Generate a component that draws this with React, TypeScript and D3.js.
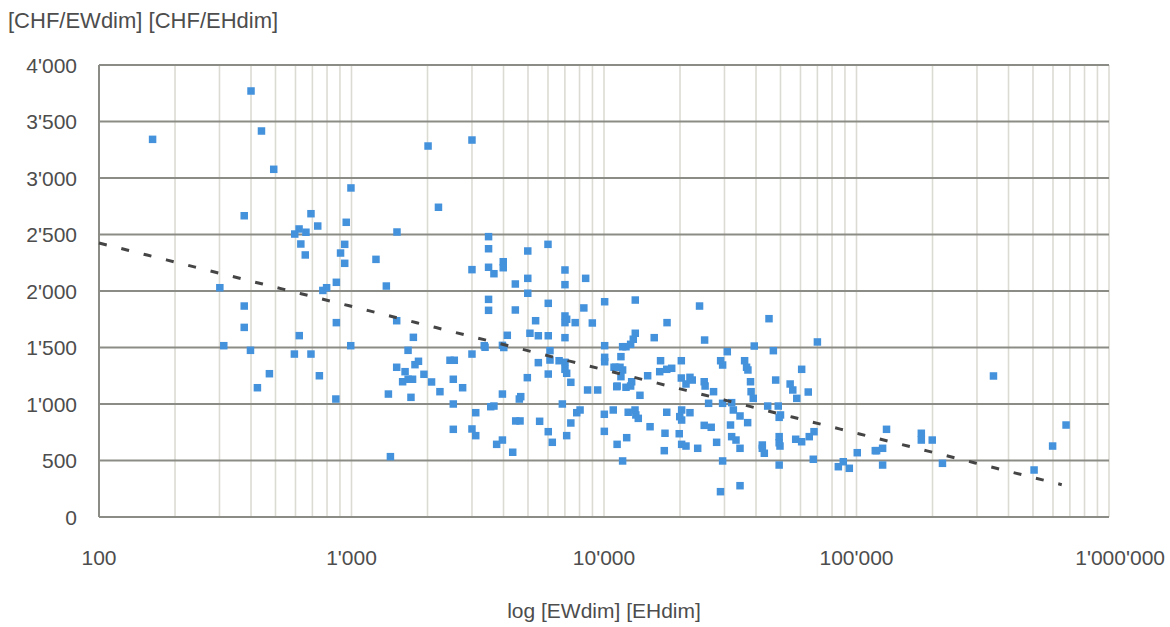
import React from "react";
import * as d3 from "d3";

// Data
const xValues: number[] = [
  163, 400, 440, 492, 995, 376, 691, 735, 953, 596, 620, 660, 630, 656, 940, 905, 940, 871, 797, 301,
  770, 376, 376, 871, 621, 312, 398, 594, 691, 993, 473, 746, 424, 867, 2010, 3000, 2210, 1514, 1250, 1374,
  3490, 3490, 3000, 3490, 3665, 3990, 3990, 4990, 6000, 4990, 4455, 7005, 7005, 8460, 4990, 3490, 3490, 4455, 6015, 8320,
  10060, 5360, 7005, 7115, 7005, 7690, 8990, 1510, 1758, 1675, 1510, 1630, 1842, 1784, 1936, 1594, 1676, 1745, 2075, 1400,
  1720, 2240, 2455, 2553, 2530, 2755, 3000, 3355, 3380, 3960, 4010, 4140, 5090, 5495, 6015, 7005, 6110, 6110, 6640, 5495,
  7005, 7005, 7115, 6015, 7390, 4970, 3960, 4680, 4620, 8610, 9440, 10060, 10060, 10060, 11130, 11270, 2530, 3105, 3560, 3665,
  4470, 4650, 5560, 6840, 7390, 7800, 8040, 10030, 10880, 10030, 11270, 2530, 3000, 3105, 3757, 3960, 4350, 6015, 6240, 7115,
  1426, 13300, 23900, 17770, 45030, 13300, 13060, 12750, 12220, 11850, 15810, 25030, 39360, 46850, 30780, 70000, 11670, 10960, 11570, 11850,
  11670, 11230, 12220, 12750, 12870, 13880, 14890, 16750, 16620, 17720, 18540, 20240, 20240, 21900, 22360, 21120, 24940, 25140, 27160, 28970,
  29500, 36050, 36700, 37150, 38040, 38240, 39000, 25960, 29490, 32030, 32530, 34570, 37060, 31700, 32030, 33320, 34570, 27930, 24940, 26580,
  23500, 20300, 19950, 20300, 21900, 19860, 20300, 21120, 17440, 17330, 17720, 15220, 12470, 13270, 13670, 13370, 12300, 11850, 29500, 28930,
  34570, 42360, 42360, 43140, 49400, 49400, 49770, 49400, 49400, 50000, 44490, 48990, 54600, 55930, 58000, 47860, 60650, 64400, 57440, 60650,
  65000, 67880, 67430, 84730, 88640, 93650, 100700, 118700, 131500, 120100, 126900, 126900, 180600, 180600, 199500, 219000, 348700, 505000, 598000, 676000,
];

const yValues: number[] = [
  3342, 3770, 3416, 3077, 2912, 2666, 2684, 2575, 2608, 2504, 2549, 2520, 2416, 2319, 2413, 2336, 2245, 2077, 2029, 2029,
  2005, 1867, 1678, 1720, 1605, 1516, 1475, 1442, 1442, 1516, 1268, 1250, 1144, 1044, 3283, 3336, 2741, 2522, 2280, 2044,
  2481, 2374, 2189, 2210, 2153, 2259, 2206, 2354, 2413, 2112, 2062, 2186, 2056, 2112, 1980, 1926, 1829, 1832, 1891, 1850,
  1905, 1737, 1779, 1750, 1720, 1720, 1717, 1737, 1590, 1475, 1325, 1286, 1378, 1348, 1263, 1197, 1219, 1219, 1195, 1088,
  1059, 1109, 1387, 1387, 1219, 1144, 1442, 1516, 1502, 1519, 1500, 1608, 1626, 1604, 1604, 1587, 1472, 1389, 1383, 1366,
  1369, 1307, 1272, 1265, 1192, 1233, 1088, 1065, 1044, 1124, 1124, 1516, 1413, 1374, 1325, 1159, 1000, 923, 976, 982,
  850, 850, 847, 1000, 832, 923, 947, 909, 947, 758, 643, 776, 779, 720, 643, 681, 573, 755, 661, 720,
  534, 1920, 1867, 1720, 1755, 1626, 1573, 1528, 1507, 1507, 1587, 1566, 1513, 1472, 1463, 1549, 1419, 1325, 1325, 1301,
  1242, 1153, 1148, 1159, 1197, 1077, 1250, 1383, 1286, 1307, 1316, 1383, 1230, 1236, 1212, 1177, 1197, 1159, 1109, 1383,
  1345, 1383, 1325, 1301, 1197, 1109, 1050, 1006, 1006, 1012, 947, 894, 835, 814, 711, 681, 608, 661, 811, 794,
  608, 947, 888, 858, 923, 737, 643, 628, 741, 587, 927, 799, 927, 947, 873, 903, 702, 496, 496, 224,
  277, 637, 608, 564, 711, 657, 628, 460, 882, 903, 982, 982, 1177, 1124, 1050, 1212, 1307, 1106, 688, 666,
  711, 755, 511, 445, 489, 431, 569, 587, 776, 587, 608, 460, 741, 681, 681, 475, 1248, 416, 628, 814,
];

const xTickValues: number[] = [100, 1000, 10000, 100000, 1000000];
const xTickLabels: string[] = ["100", "1'000", "10'000", "100'000", "1'000'000"];
const yTickValues: number[] = [0, 500, 1000, 1500, 2000, 2500, 3000, 3500, 4000];
const yTickLabels: string[] = ["0", "500", "1'000", "1'500", "2'000", "2'500", "3'000", "3'500", "4'000"];

// logarithmic trend line: value at x=100 and change per decade
const trendAt100 = 2425;
const trendPerDecade = -561;
const trendStart = 100;
const trendEnd = 650000;

const yTitle = "[CHF/EWdim] [CHF/EHdim]";
const xTitle = "log [EWdim] [EHdim]";

const W = 1170;
const H = 627;
const M = { left: 99, right: 1109, top: 65, bottom: 517 };

export default function App() {
  const x = d3.scaleLog().domain([100, 1000000]).range([M.left, M.right]);
  const y = d3.scaleLinear().domain([0, 4000]).range([M.bottom, M.top]);

  const minor: number[] = [];
  for (let e = 2; e < 6; e++) {
    for (let k = 1; k <= 9; k++) minor.push(k * Math.pow(10, e));
  }
  minor.push(1000000);

  const trendVal = (v: number) => trendAt100 + trendPerDecade * (Math.log10(v) - 2);
  const trendPts: [number, number][] = d3.range(0, 101).map((i) => {
    const lv = Math.log10(trendStart) + (i / 100) * (Math.log10(trendEnd) - Math.log10(trendStart));
    const v = Math.pow(10, lv);
    return [x(v), y(trendVal(v))];
  });
  const line = d3.line();

  const font = "'Liberation Sans', Arial, sans-serif";
  const textColor = "#4d4d4d";
  const sq = 7.5;

  return (
    <svg
      width={W}
      height={H}
      style={{ position: "absolute", left: 0, top: 0, background: "#fff" }}
      fontFamily={font}
    >
      <rect x={0} y={0} width={W} height={H} fill="#fff" />
      {minor.map((v, i) => (
        <line key={"v" + i} x1={x(v)} x2={x(v)} y1={M.top} y2={M.bottom} stroke="#dcdbd3" strokeWidth={1.6} />
      ))}
      {yTickValues.map((v) => (
        <line key={"h" + v} x1={M.left} x2={M.right} y1={y(v)} y2={y(v)} stroke="#8c8c86" strokeWidth={2} />
      ))}
      <line x1={M.left} x2={M.left} y1={M.top} y2={M.bottom} stroke="#8c8c86" strokeWidth={2} />
      <line x1={M.left} x2={M.right} y1={M.bottom} y2={M.bottom} stroke="#8c8c86" strokeWidth={2} />

      {xValues.map((v, i) => (
        <rect
          key={"p" + i}
          x={x(v) - sq / 2}
          y={y(yValues[i]) - sq / 2}
          width={sq}
          height={sq}
          fill="#4592dc"
        />
      ))}

      <path
        d={line(trendPts) || ""}
        fill="none"
        stroke="#454545"
        strokeWidth={3}
        strokeDasharray="8,15"
      />

      {yTickValues.map((v, i) => (
        <text
          key={"yl" + v}
          x={77}
          y={y(v)}
          dy="0.36em"
          textAnchor="end"
          fontSize={21}
          fill={textColor}
        >
          {yTickLabels[i]}
        </text>
      ))}
      {xTickValues.map((v, i) => {
        const last = i === xTickValues.length - 1;
        return (
          <text
            key={"xl" + v}
            x={last ? W - 5 : x(v)}
            y={565}
            textAnchor={last ? "end" : "middle"}
            fontSize={21}
            fill={textColor}
          >
            {xTickLabels[i]}
          </text>
        );
      })}
      <text x={8} y={28} fontSize={22} fill={textColor}>
        {yTitle}
      </text>
      <text x={(M.left + M.right) / 2} y={618} textAnchor="middle" fontSize={21} fill={textColor}>
        {xTitle}
      </text>
    </svg>
  );
}
